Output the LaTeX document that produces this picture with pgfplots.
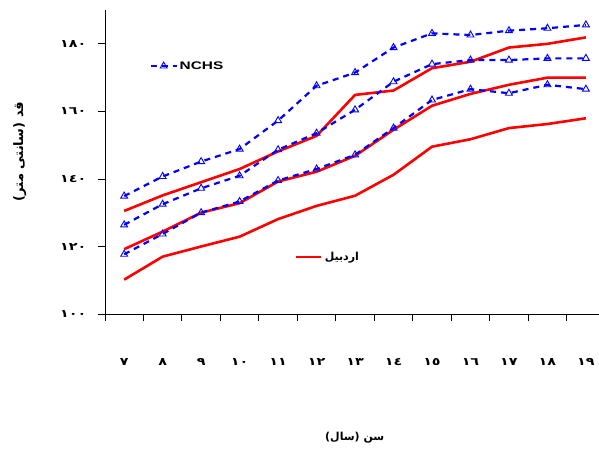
\documentclass[border=0pt]{standalone}
\usepackage{fontspec}
\usepackage{pgfplots}
\pgfplotsset{compat=1.18}
\setmainfont{Liberation Sans}
\newfontfamily\latinwide[FakeStretch=1.4]{Liberation Sans}
\newfontfamily\arabicfont[Script=Arabic]{DejaVu Sans}
\newfontfamily\arabicwide[Script=Arabic, FakeStretch=1.3]{DejaVu Sans}
\TeXXeTstate=1
\definecolor{nblue}{RGB}{0,0,255}
\definecolor{ared}{RGB}{255,0,0}
\pgfplotsset{
  common/.style={
    scale only axis, width=494pt, height=304.7pt,
    xmin=6.5, xmax=19.33, ymin=100, ymax=190,
    clip=false,
  },
}
\begin{document}
\begin{tikzpicture}
\path (-105pt,-138.3pt) rectangle (494pt,314.7pt);
% Ardabil (red) axis, drawn first
\begin{axis}[common, hide axis,
  legend style={draw=none, fill=none, at={(axis description cs:0.385,0.189)}, anchor=west,
    font=\arabicfont\bfseries\fontsize{11}{13}\selectfont, inner sep=0pt},
  legend image code/.code={\draw[#1] (0pt,0pt) -- (25pt,0pt);},
]
\addplot[ared, line width=2.6pt, forget plot] coordinates {(7,130.6)(8,135.2)(9,139.1)(10,143)(11,148.2)(12,152.8)(13,164.9)(14,166.2)(15,172.8)(16,174.7)(17,178.9)(18,180)(19,181.9)};
\addplot[ared, line width=2.6pt] coordinates {(7,119.3)(8,124.5)(9,130.1)(10,132.9)(11,139.3)(12,142.2)(13,146.9)(14,154.6)(15,161.7)(16,165.2)(17,167.9)(18,170)(19,170)};
\addplot[ared, line width=2.6pt, forget plot] coordinates {(7,110.3)(8,117.1)(9,120.1)(10,123)(11,128.2)(12,132.1)(13,135.1)(14,141.3)(15,149.6)(16,151.8)(17,155.1)(18,156.3)(19,158)};
\addlegendentry{\beginR اردبیل\endR}
\end{axis}
% NCHS (blue) axis with the visible axis lines
\begin{axis}[common,
  axis lines*=left, axis line style={-, black, line width=0.8pt},
  tick align=outside, tick style={black, line width=0.8pt},
  xtick={7,...,19}, major x tick style={draw=none},
  minor xtick={6.5,7.5,...,18.5}, minor tick length=7pt,
  xticklabels={٧,٨,٩,١٠,١١,١٢,١٣,١٤,١٥,١٦,١٧,١٨,١٩},
  xticklabel style={font=\arabicwide\bfseries\fontsize{11}{12}\selectfont, anchor=center, yshift=-41pt},
  ytick={100,120,...,180}, major tick length=7pt,
  yticklabels={١٠٠,١٢٠,١٤٠,١٦٠,١٨٠},
  yticklabel style={font=\arabicwide\bfseries\fontsize{11}{12}\selectfont, anchor=east, xshift=-8pt},
  xlabel={\beginR سن (سال)\endR},
  xlabel style={font=\arabicfont\bfseries\fontsize{11}{13}\selectfont, at={(axis description cs:0.506,-0.405)}, anchor=center},
  ylabel={\beginR قد (سانتی متر)\endR},
  ylabel style={font=\arabicfont\bfseries\fontsize{13}{15}\selectfont, at={(axis description cs:-0.1727,0.535)}, anchor=center, rotate=0},
  legend style={draw=none, fill=none, at={(axis description cs:0.09,0.816)}, anchor=west,
    font=\latinwide\bfseries\fontsize{11}{13}\selectfont, inner sep=0pt},
  legend image code/.code={\draw[mark repeat=2,mark phase=2,#1] plot coordinates {(0pt,0pt) (13pt,0pt) (26pt,0pt)};},
]
\pgfplotsset{nchs/.style={nblue, line width=2.2pt, dash pattern=on 6pt off 5pt, mark=triangle, mark size=4pt, mark options={solid, line width=0.9pt, fill=none}}}
\addplot[nchs] coordinates {(7,135)(8,140.8)(9,145.2)(10,148.9)(11,157.3)(12,167.6)(13,171.5)(14,178.9)(15,183.1)(16,182.6)(17,183.9)(18,184.6)(19,185.6)};
\addplot[nchs, forget plot] coordinates {(7,126.5)(8,132.6)(9,137.3)(10,141)(11,148.7)(12,153.6)(13,160.5)(14,168.8)(15,174)(16,175.2)(17,175.2)(18,175.7)(19,175.7)};
\addplot[nchs, forget plot] coordinates {(7,117.8)(8,123.8)(9,130.1)(10,133.4)(11,139.6)(12,143)(13,147.2)(14,155.1)(15,163.4)(16,166.6)(17,165.4)(18,167.9)(19,166.6)};
\addlegendentry{NCHS}
\end{axis}
\end{tikzpicture}
\end{document}
